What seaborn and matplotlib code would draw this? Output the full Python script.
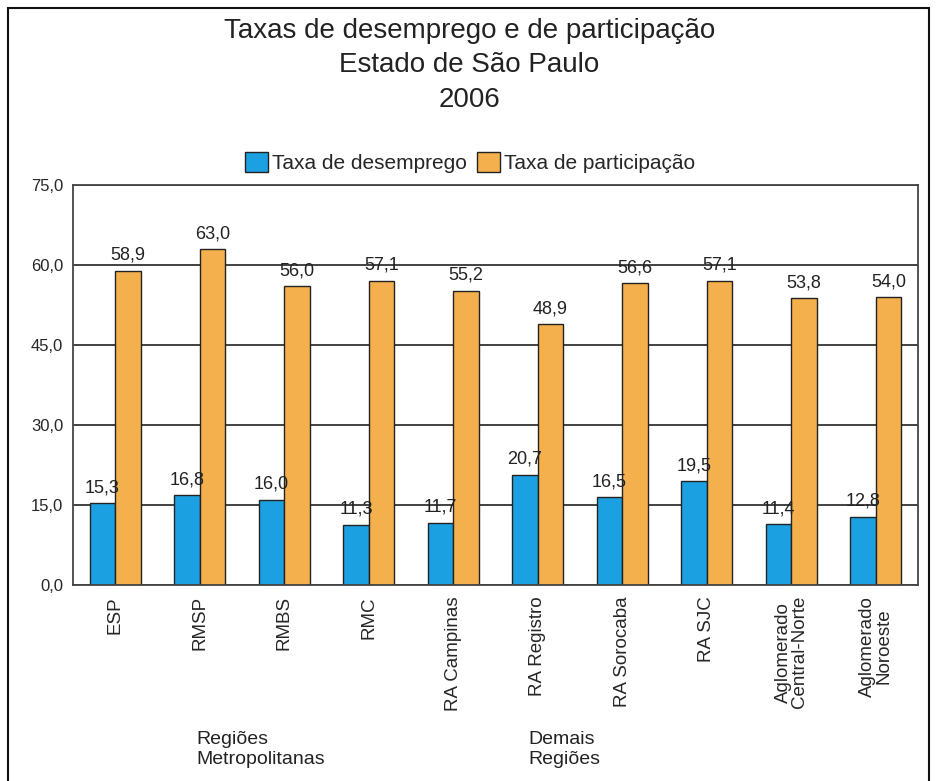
import pandas as pd
import seaborn as sns
import matplotlib.pyplot as plt
from matplotlib.patches import Rectangle

regions = ["ESP", "RMSP", "RMBS", "RMC", "RA Campinas", "RA Registro",
           "RA Sorocaba", "RA SJC", "Aglomerado\nCentral-Norte", "Aglomerado\nNoroeste"]
desemprego = [15.3, 16.8, 16.0, 11.3, 11.7, 20.7, 16.5, 19.5, 11.4, 12.8]
participacao = [58.9, 63.0, 56.0, 57.1, 55.2, 48.9, 56.6, 57.1, 53.8, 54.0]
series = ["Taxa de desemprego", "Taxa de participação"]
yticks = [0, 15, 30, 45, 60, 75]

colors = {"Taxa de desemprego": "#1ba1e2", "Taxa de participação": "#f5b04e"}

df = pd.DataFrame({
    "regiao": regions * 2,
    "taxa": desemprego + participacao,
    "serie": [series[0]] * len(regions) + [series[1]] * len(regions),
})

sns.set_style("white")
plt.rcParams['font.family'] = ['Liberation Sans', 'DejaVu Sans']

fig = plt.figure(figsize=(9.39, 7.81), dpi=100)
ax = fig.add_axes([0.0777, 0.251, 0.8999, 0.512])

sns.barplot(data=df, x="regiao", y="taxa", hue="serie", hue_order=series,
            palette=colors, width=0.6, edgecolor="#222222", linewidth=1.0,
            saturation=1, ax=ax)

for cont in ax.containers:
    labels = [f"{v:.1f}".replace(".", ",") for v in cont.datavalues]
    ax.bar_label(cont, labels=labels, padding=5, fontsize=13, color="#222222")

ax.set_ylim(0, 75)
ax.set_xlim(-0.5, len(regions) - 0.5)
ax.set_yticks(yticks)
ax.set_yticklabels([f"{v:.1f}".replace(".", ",") for v in yticks], fontsize=12)
ax.tick_params(axis="y", length=3, width=1, color="#333333", pad=4)
ax.tick_params(axis="x", length=0, pad=8)
plt.setp(ax.get_xticklabels(), rotation=90, fontsize=13.5, va="top", ha="center",
         linespacing=0.95)
ax.set_xlabel("")
ax.set_ylabel("")
ax.grid(axis="y", color="#333333", linewidth=1.3)
ax.set_axisbelow(True)
for s in ax.spines.values():
    s.set_color("#444444")
    s.set_linewidth(1.3)

handles, lbls = ax.get_legend_handles_labels()
ax.legend(handles, lbls, loc="lower center", bbox_to_anchor=(0.47, 1.0), ncol=2,
          frameon=False, fontsize=15, handlelength=1.1, handleheight=1.1,
          handletextpad=0.2, columnspacing=0.5, borderaxespad=0.2)

fig.text(0.50, 0.960, "Taxas de desemprego e de participação", ha="center", va="center",
         fontsize=20, color="#222222")
fig.text(0.50, 0.917, "Estado de São Paulo", ha="center", va="center",
         fontsize=20, color="#222222")
fig.text(0.50, 0.872, "2006", ha="center", va="center", fontsize=20, color="#222222")

fig.text(196 / 939, 0.040, "Regiões\nMetropolitanas", ha="left", va="center",
         fontsize=14, color="#222222", linespacing=1.25)
fig.text(528 / 939, 0.040, "Demais\nRegiões", ha="left", va="center",
         fontsize=14, color="#222222", linespacing=1.25)

fig.patches.append(Rectangle((8 / 939, -0.02), 921 / 939, 1 - 8 / 781 + 0.02,
                             transform=fig.transFigure, fill=False,
                             edgecolor="#111111", linewidth=1.5))

fig.savefig("out.png", dpi=100)
